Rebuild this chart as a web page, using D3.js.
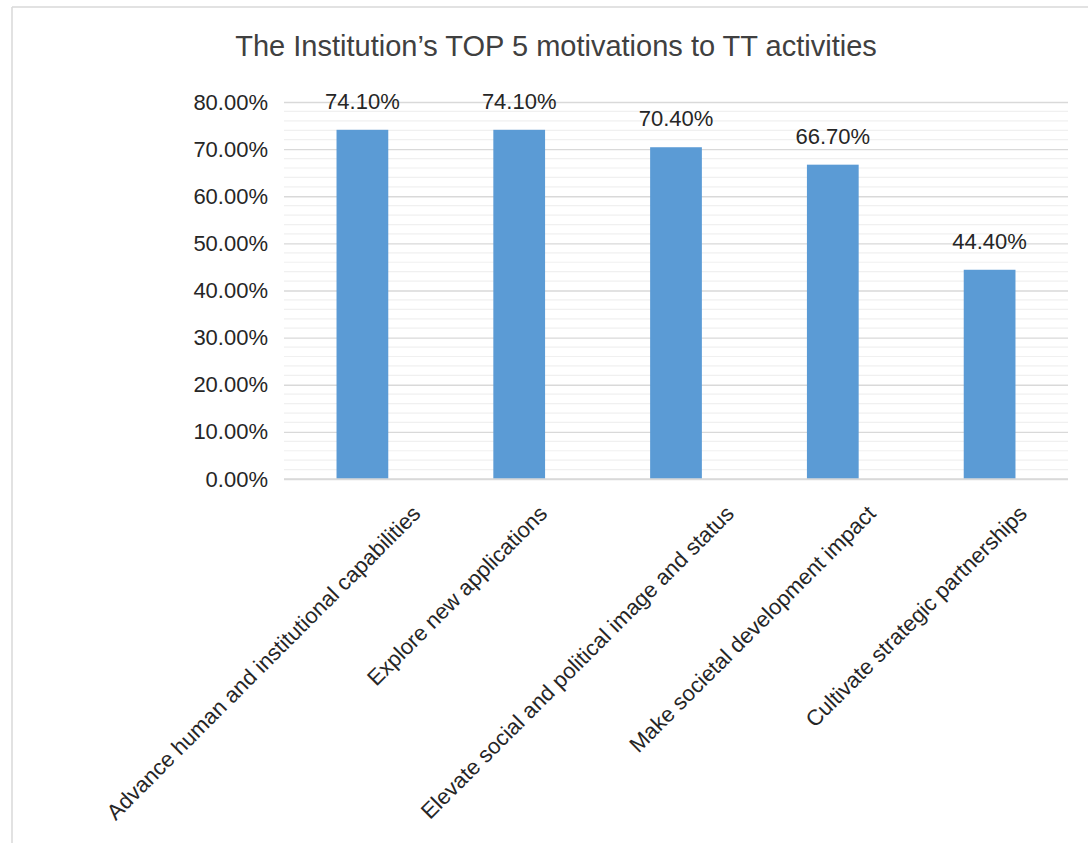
<!DOCTYPE html>
<html>
<head>
<meta charset="utf-8">
<script src="https://cdn.jsdelivr.net/npm/d3@7/dist/d3.min.js"></script>
<style>
  html, body { margin: 0; padding: 0; background: #fff; }
  svg { display: block; }
</style>
</head>
<body>
<svg id="chart" width="1088" height="843"></svg>
<script>
// Motivation categories and their shares (percent of institutions)
const categories = [
  "Advance human and institutional capabilities",
  "Explore new applications",
  "Elevate social and political image and status",
  "Make societal development impact",
  "Cultivate strategic partnerships"
];
const values = [74.1, 74.1, 70.4, 66.7, 44.4];
const yTicks = [0, 10, 20, 30, 40, 50, 60, 70, 80];
const minorTicks = d3.range(0, 80.001, 2);
const title = "The Institution\u2019s TOP 5 motivations to TT activities";

const svg = d3.select("#chart");
const font = "'Liberation Sans', Arial, sans-serif";

// frame of the chart area
svg.append("line").attr("x1", 12).attr("x2", 1088).attr("y1", 7).attr("y2", 7)
  .attr("stroke", "#d9d9d9").attr("stroke-width", 1.5);
svg.append("line").attr("x1", 12).attr("x2", 12).attr("y1", 7).attr("y2", 843)
  .attr("stroke", "#d9d9d9").attr("stroke-width", 1.5);

const plot = { left: 284, right: 1068, top: 102, bottom: 479 };

const x = d3.scaleBand().domain(categories).range([plot.left, plot.right]).paddingInner(0.67).paddingOuter(0.335);
const y = d3.scaleLinear().domain([0, 80]).range([plot.bottom, plot.top]);

// minor gridlines
svg.append("g").selectAll("line").data(minorTicks.filter(v => v % 10 !== 0)).join("line")
  .attr("x1", plot.left).attr("x2", plot.right)
  .attr("y1", d => y(d)).attr("y2", d => y(d))
  .attr("stroke", "#f0f0f0").attr("stroke-width", 1.2);

// major gridlines + y labels via axis
const yAxis = d3.axisLeft(y).tickValues(yTicks).tickSize(-(plot.right - plot.left)).tickPadding(16)
  .tickFormat(d => d.toFixed(2) + "%");
const yg = svg.append("g").attr("transform", `translate(${plot.left},0)`).call(yAxis);
yg.select(".domain").remove();
yg.selectAll(".tick line").attr("stroke", "#d9d9d9").attr("stroke-width", 1.3);
yg.selectAll(".tick text").attr("font-family", font).attr("font-size", 22).attr("fill", "#262626");

// bars
svg.append("g").selectAll("rect").data(values).join("rect")
  .attr("x", (d, i) => x(categories[i]))
  .attr("width", x.bandwidth())
  .attr("y", d => y(d))
  .attr("height", d => y(0) - y(d))
  .attr("fill", "#5b9bd5");

// category axis line
svg.append("line").attr("x1", plot.left).attr("x2", plot.right)
  .attr("y1", y(0)).attr("y2", y(0)).attr("stroke", "#d9d9d9").attr("stroke-width", 1.5);

// data labels
svg.append("g").selectAll("text").data(values).join("text")
  .attr("x", (d, i) => x(categories[i]) + x.bandwidth() / 2)
  .attr("y", d => y(d) - 21)
  .attr("text-anchor", "middle")
  .attr("font-family", font).attr("font-size", 22).attr("fill", "#262626")
  .text(d => d.toFixed(2) + "%");

// rotated category labels: longer labels shift further right of their tick
const catLabels = svg.append("g").selectAll("text").data(categories).join("text")
  .attr("text-anchor", "end")
  .attr("font-family", font).attr("font-size", 22).attr("fill", "#262626")
  .text(d => d);
catLabels.attr("transform", function (d) {
  const len = this.getComputedTextLength();
  const halfSpan = (len + 16) * Math.SQRT1_2 / 2;
  const cx = x(d) + x.bandwidth() / 2;
  return `translate(${cx - 12 + 0.45 * halfSpan},${y(0) + 36}) rotate(-45)`;
});

// title
svg.append("text").attr("x", 556).attr("y", 56).attr("text-anchor", "middle")
  .attr("font-family", font).attr("font-size", 29).attr("fill", "#404040")
  .text(title);
</script>
</body>
</html>
